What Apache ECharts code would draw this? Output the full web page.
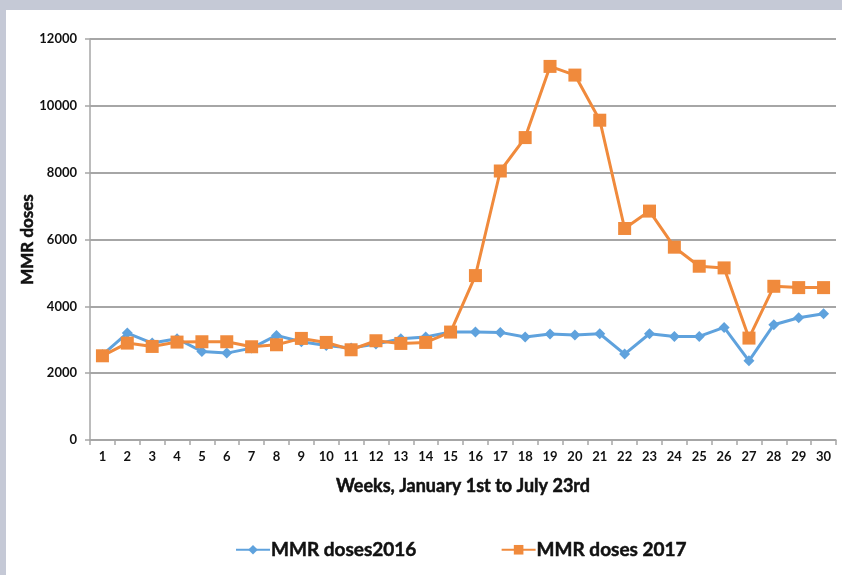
<!DOCTYPE html>
<html>
<head>
<meta charset="utf-8">
<script src="https://cdn.jsdelivr.net/npm/echarts@6/dist/echarts.min.js"></script>
<style>
  html, body { margin: 0; padding: 0; background: #c5c9d6; }
  #frame { position: absolute; left: 6px; top: 10px; width: 836px; height: 565px; background: #ffffff; }
  #chart { width: 836px; height: 565px; }
</style>
</head>
<body>
<div id="frame"><div id="chart"></div></div>
<script>
// Week numbers, January 1st to July 23rd
const weeks = ['1','2','3','4','5','6','7','8','9','10','11','12','13','14','15',
               '16','17','18','19','20','21','22','23','24','25','26','27','28','29','30'];

// Weekly MMR doses, 2016
const doses2016 = [2550, 3200, 2900, 3030, 2650, 2600, 2750, 3130, 2940, 2830,
                   2750, 2870, 3030, 3080, 3230, 3230, 3220, 3080, 3170, 3140,
                   3180, 2570, 3180, 3100, 3100, 3370, 2370, 3450, 3660, 3780];

// Weekly MMR doses, 2017
const doses2017 = [2520, 2900, 2800, 2930, 2940, 2940, 2790, 2850, 3040, 2920,
                   2700, 2970, 2890, 2920, 3230, 4920, 8050, 9050, 11180, 10920,
                   9570, 6330, 6850, 5770, 5200, 5150, 3050, 4600, 4560, 4560];

const FONT = 'Lato, "Open Sans", sans-serif';
const WEIGHT = 'bold';
// a thin outline in the text colour gives the heavier bold look
const heavy = { textBorderColor: '#111', textBorderWidth: 0.5 };
const chart = echarts.init(document.getElementById('chart'), null, { renderer: 'canvas' });

chart.setOption({
  animation: false,
  backgroundColor: '#ffffff',
  textStyle: { fontFamily: FONT },
  grid: { left: 84, right: 6, top: 29, bottom: 135 },
  legend: {
    left: 224,
    top: 525,
    itemGap: 84,
    itemWidth: 34,
    itemHeight: 12,
    textStyle: Object.assign({ fontFamily: FONT, fontWeight: WEIGHT, fontSize: 19, color: '#111', padding: [0, 0, 0, -4] }, heavy),
    data: ['MMR doses2016', 'MMR doses 2017']
  },
  xAxis: {
    type: 'category',
    data: weeks,
    boundaryGap: true,
    name: 'Weeks, January 1st to July 23rd',
    nameLocation: 'middle',
    nameGap: 37,
    nameMoveOverlap: false,
    nameTextStyle: Object.assign({ fontFamily: FONT, fontWeight: WEIGHT, fontSize: 18, color: '#111' }, heavy),
    axisLine: { lineStyle: { color: '#a6a6a6', width: 1.5 } },
    axisTick: { show: true, length: 5, lineStyle: { color: '#a6a6a6', width: 1.5 } },
    axisLabel: { fontFamily: FONT, fontWeight: WEIGHT, fontSize: 13, color: '#111', margin: 10 },
    splitLine: { show: false }
  },
  yAxis: {
    type: 'value',
    min: 0,
    max: 12000,
    interval: 2000,
    name: 'MMR doses',
    nameLocation: 'middle',
    nameGap: 54,
    nameMoveOverlap: false,
    nameRotate: 90,
    nameTextStyle: Object.assign({ fontFamily: FONT, fontWeight: WEIGHT, fontSize: 17, color: '#111' }, heavy),
    axisLine: { show: true, lineStyle: { color: '#a6a6a6', width: 1.5 } },
    axisTick: { show: true, length: 5, lineStyle: { color: '#a6a6a6', width: 1.5 } },
    axisLabel: {
      fontFamily: FONT, fontWeight: WEIGHT, fontSize: 13, color: '#111', margin: 13,
      formatter: (v) => String(v)
    },
    splitLine: { show: true, lineStyle: { color: '#a6a6a6', width: 2 } }
  },
  series: [
    {
      name: 'MMR doses2016',
      type: 'line',
      data: doses2016,
      symbol: 'diamond',
      symbolSize: 11,
      lineStyle: { color: '#5fa2dd', width: 3 },
      itemStyle: { color: '#5fa2dd' },
      z: 2
    },
    {
      name: 'MMR doses 2017',
      type: 'line',
      data: doses2017,
      symbol: 'rect',
      symbolSize: 13,
      lineStyle: { color: '#f08a3c', width: 3 },
      itemStyle: { color: '#f08a3c' },
      z: 3
    }
  ]
});
</script>
</body>
</html>
